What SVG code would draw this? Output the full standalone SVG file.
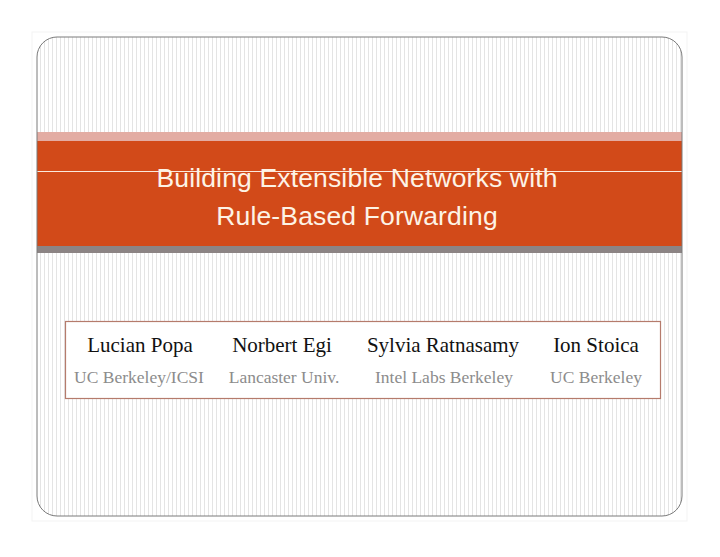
<svg xmlns="http://www.w3.org/2000/svg" width="720" height="557" viewBox="0 0 720 557">
<defs>
<pattern id="stripes" x="0" y="0" width="4" height="10" patternUnits="userSpaceOnUse">
<rect width="4" height="10" fill="#ffffff"/>
<rect x="0" width="1" height="10" fill="#e4e4e4"/>
</pattern>
<clipPath id="cardClip"><rect x="37" y="37" width="645" height="479" rx="20" ry="20"/></clipPath>
</defs>
<style>
.title{font-family:"Liberation Sans",Arial,sans-serif;font-size:26.5px;fill:#fdf3e6;text-anchor:middle;letter-spacing:0.15px}
.name{font-family:"Liberation Serif","Times New Roman",serif;font-size:21px;fill:#111111;text-anchor:middle}
.aff{font-family:"Liberation Serif","Times New Roman",serif;font-size:17.5px;fill:#8c8c8c;text-anchor:middle}
</style>
<rect width="720" height="557" fill="#ffffff"/>
<rect x="32" y="32" width="655" height="489" fill="none" stroke="#f3f3f3" stroke-width="1"/>
<g id="card">
<rect x="37" y="37" width="645" height="479" rx="20" ry="20" fill="url(#stripes)"/>
<g clip-path="url(#cardClip)">
<rect x="37" y="132" width="645" height="9" fill="#e3aca3"/>
<rect x="37" y="141" width="645" height="105" fill="#d24a19"/>
<rect x="37" y="246" width="645" height="7" fill="#8c8484"/>
<line x1="37" y1="171.5" x2="682" y2="171.5" stroke="#fbe9dc" stroke-width="1"/>
</g>
<rect x="37" y="37" width="645" height="479" rx="20" ry="20" fill="none" stroke="#7a7a7a" stroke-width="1"/>
</g>
<g id="title">
<text class="title" x="357" y="186.5">Building Extensible Networks with</text>
<text class="title" x="357" y="224.5">Rule-Based Forwarding</text>
</g>
<g id="authors">
<rect x="65.5" y="321.5" width="595" height="77" fill="#ffffff" stroke="#b57b6c" stroke-width="1.2"/>
<text class="name" x="140" y="352">Lucian Popa</text>
<text class="name" x="282" y="352">Norbert Egi</text>
<text class="name" x="443" y="352">Sylvia Ratnasamy</text>
<text class="name" x="596" y="352">Ion Stoica</text>
<text class="aff" x="139" y="383">UC Berkeley/ICSI</text>
<text class="aff" x="284" y="383">Lancaster Univ.</text>
<text class="aff" x="444" y="383">Intel Labs Berkeley</text>
<text class="aff" x="596" y="383">UC Berkeley</text>
</g>
</svg>
